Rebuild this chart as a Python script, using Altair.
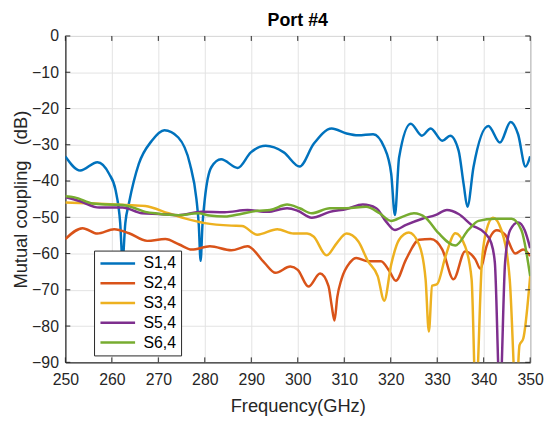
import altair as alt
import pandas as pd

# ---------------- data ----------------
series_names = ["S1,4", "S2,4", "S3,4", "S5,4", "S6,4"]
series_colors = ["#0072BD", "#D95319", "#EDB120", "#7E2F8E", "#77AC30"]

f_s14 = [250, 253.2, 256.9, 259.4, 260.8, 261.8, 262.3, 262.9, 263.7, 265.8, 268.6, 271.3,
         274.3, 276.8, 278.2, 278.7, 279.1, 279.5, 280, 281.4, 283.5, 287.1, 289.9, 293.1,
         297, 300.4, 303.4, 307.3, 310.5, 313, 316.2, 318.6, 320.1, 320.9, 321.8, 324.3,
         326.7, 328.6, 331.1, 332.8, 334.6, 335.7, 336.5, 337.8, 341, 343.5, 345.8, 347.4,
         349, 350]
db_s14 = [-33.2, -37.1, -34.8, -38, -42.5, -51.6, -62, -51.6, -46, -35.3, -28.9, -26,
          -28, -35.3, -45, -52, -62, -52, -45, -36.2, -34, -36.4, -32.1, -30.3,
          -32.1, -36, -29.8, -25.5, -26.9, -27.4, -27.1, -30.7, -38, -49.4, -33.5, -24.2,
          -27.5, -25.5, -28.9, -27.5, -31.6, -41, -47.1, -36.2, -24.8, -29.4, -23.7, -27.1,
          -36, -33.2]

f_s24 = [250, 253.7, 256.9, 260.5, 263.7, 267.6, 271.5, 274.5, 277.2, 281.1, 285.7, 289.2,
         292.8, 295.2, 298.4, 300, 302.3, 304.8, 306.6, 307.3, 307.9, 308.5, 309.4, 311.2,
         312.6, 315.1, 317.9, 319.7, 321.1, 323.3, 326.1, 328.6, 331.1, 333.5, 336, 338.2,
         339.3, 340.6, 342.8, 344.6, 346.8, 348.5, 350]
db_s24 = [-56, -53, -54.5, -53.3, -54.4, -56.5, -56, -57.5, -58.9, -58, -59.1, -58,
          -62.5, -65.3, -63.6, -64.5, -69.1, -65.5, -68.9, -74.4, -78.5, -72, -67.1, -62.5,
          -61.2, -62.1, -62.1, -64.8, -67.5, -61.6, -56.2, -56, -58.9, -67.1, -59.4, -61.6,
          -64.2, -58, -53.6, -54.8, -60, -58.9, -60.7]

f_s34 = [250, 255.9, 263, 267.2, 272.2, 275.7, 280, 285.7, 288, 291.3, 295.6, 299.1,
         302, 303.4, 306.2, 308.4, 310.5, 313, 315.1, 317.2, 318.6, 320.1, 321.8, 323.9,
         326.1, 327.5, 328.2, 328.9, 330, 331.8, 333.9, 336, 337.4, 338.3, 339.6, 340.6,
         342, 343.8, 345.6, 347, 347.7, 348.5, 350]
db_s34 = [-45.9, -46.2, -46.6, -46.9, -48.9, -50.3, -51.6, -52.3, -52.4, -54.8, -53.3, -54.5,
          -54.5, -55.3, -60.5, -57.1, -54.5, -56.6, -62.1, -66.2, -73, -63, -56.2, -54.2,
          -57.5, -67.1, -81.5, -68.9, -68.4, -60.7, -54.4, -58, -67.1, -100, -62.5, -53.5,
          -50.1, -53.5, -67.1, -100, -85.3, -83.5, -66.2]

f_s54 = [250, 253, 257.3, 262.3, 266.5, 270.1, 274.3, 279.3, 284.3, 289.2, 293.5, 297.7,
         300, 303, 306.9, 310.5, 314, 316.9, 319, 320.9, 323.3, 326.8, 329.6, 332.1,
         334.6, 337.4, 340.3, 341.6, 342.4, 343.5, 344.6, 345.7, 347.4, 348.8, 350]
db_s54 = [-44.4, -45.5, -47.3, -47.3, -48.9, -49.1, -49.4, -48.5, -48.6, -48, -48.5, -47.5,
          -48.2, -50.1, -48.5, -47.7, -46.5, -47.5, -51.2, -53.5, -52.1, -50.4, -49.4, -48,
          -49.1, -52.1, -54.4, -57, -62.5, -100, -62.5, -53.5, -51.4, -53.5, -58.5]

f_s64 = [250, 252, 255.9, 259, 262.3, 265, 267.2, 270, 274.3, 278.6, 281, 284.3,
         288, 291.3, 294, 297.7, 300.4, 303, 306.9, 310.5, 314.7, 317.6, 320.1, 322.6,
         325, 327.5, 330.3, 333.9, 336.7, 338.9, 342.4, 346, 348.1, 350]
db_s64 = [-44.2, -44.5, -46.2, -46.5, -46.6, -47.5, -48.5, -49, -49.4, -48.9, -49.5, -49.8,
          -49, -48.2, -48, -46.5, -47.5, -48.9, -47.5, -47.5, -47.1, -48.9, -51, -49.8,
          -48.9, -50.1, -54.4, -57.8, -53.5, -51, -50.4, -50.4, -53.5, -66.2]

x_ticks = [250, 260, 270, 280, 290, 300, 310, 320, 330, 340, 350]
y_ticks = [0, -10, -20, -30, -40, -50, -60, -70, -80, -90]

# ---------------- build table ----------------
rows = []
for name, fs, ds in [("S1,4", f_s14, db_s14), ("S2,4", f_s24, db_s24),
                     ("S3,4", f_s34, db_s34), ("S5,4", f_s54, db_s54),
                     ("S6,4", f_s64, db_s64)]:
    for i, (f, d) in enumerate(zip(fs, ds)):
        rows.append({"series": name, "f": f, "db": d, "order": i})
df = pd.DataFrame(rows)

FONT = "Liberation Sans"
TXT = "#262626"
W, H = 470, 330

xscale = alt.Scale(domain=[250, 350], nice=False)
yscale = alt.Scale(domain=[-90, 0], nice=False)
x_axis = alt.Axis(values=x_ticks, title="Frequency(GHz)", grid=True,
                  tickSize=0, labelPadding=9, titlePadding=10)
y_axis = alt.Axis(values=y_ticks, title="Mutual coupling\u00a0\u00a0\u00a0(dB)", grid=True,
                  tickSize=0, labelPadding=7, titlePadding=1)

xt = pd.DataFrame({"v": x_ticks})
yt = pd.DataFrame({"v": y_ticks})

tick_style = dict(color=TXT, strokeWidth=1)
xb = alt.Chart(xt).mark_rule(**tick_style).encode(
    x=alt.X("v:Q", scale=xscale, axis=x_axis), y=alt.value(H), y2=alt.value(H - 5))
xtop = alt.Chart(xt).mark_rule(**tick_style).encode(
    x=alt.X("v:Q", scale=xscale, axis=x_axis), y=alt.value(0), y2=alt.value(5))
yl = alt.Chart(yt).mark_rule(**tick_style).encode(
    y=alt.Y("v:Q", scale=yscale, axis=y_axis), x=alt.value(0), x2=alt.value(5))
yr = alt.Chart(yt).mark_rule(**tick_style).encode(
    y=alt.Y("v:Q", scale=yscale, axis=y_axis), x=alt.value(W - 5), x2=alt.value(W))

lines = alt.Chart(df).mark_line(strokeWidth=2.5, interpolate="monotone", clip=True).encode(
    x=alt.X("f:Q", scale=xscale, axis=x_axis),
    y=alt.Y("db:Q", scale=yscale, axis=y_axis),
    color=alt.Color("series:N",
                    scale=alt.Scale(domain=series_names, range=series_colors),
                    legend=alt.Legend(title=None, orient="none", legendX=29, legendY=217)),
    order="order:Q",
    detail="series:N",
)

chart = alt.layer(lines, xb, xtop, yl, yr).properties(
    width=W, height=H,
    title=alt.TitleParams("Port #4", fontSize=18, font=FONT, fontWeight="bold",
                          color="black", offset=0, dy=2),
    autosize=alt.AutoSizeParams(type="none"),
    padding={"left": 58, "top": 26, "right": 16, "bottom": 55},
).configure_view(
    stroke=TXT, strokeWidth=1
).configure_axis(
    labelFont=FONT, labelFontSize=16, labelColor=TXT,
    titleFont=FONT, titleFontSize=18.5, titleColor=TXT, titleFontWeight="normal",
    gridColor="#e3e3e3", gridWidth=1, domainColor=TXT, domainWidth=1,
    labelFlush=False, labelOverlap=False,
).configure_legend(
    fillColor="white", strokeColor=TXT, strokeWidth=1, padding=5, cornerRadius=0,
    symbolType="stroke", symbolSize=1225, symbolStrokeWidth=2.5,
    labelFont=FONT, labelFontSize=16, labelColor="black", labelOffset=7,
    clipHeight=16, rowPadding=4, symbolOpacity=1,
)

chart.save("out.html", embed_options={"renderer": "svg", "actions": False})
